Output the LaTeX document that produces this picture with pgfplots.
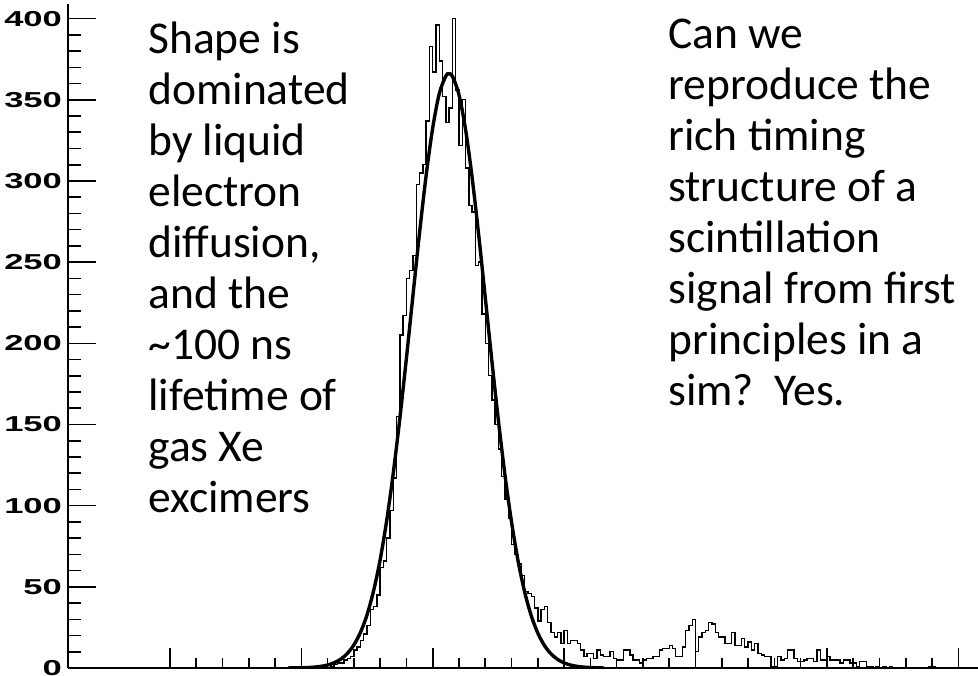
\documentclass[border=0pt]{standalone}
\usepackage{fontspec}
\setmainfont{Carlito}
\newfontfamily\tickfont{Liberation Sans}
\usepackage{graphicx}
\usepackage{pgfplots}
\pgfplotsset{compat=1.18}

% 1 px of the reference = 0.5pt
\pgfplotsset{
  common/.style={
    scale only axis,
    width=455pt, height=332pt,
    xmin=1.122, xmax=35.75,
    ymin=0, ymax=409,
    tick align=inside,
    axis line style={line width=1pt, -},
    every tick/.style={black, line width=0.8pt},
  },
}

\begin{document}
\begin{tikzpicture}
% y axis, data
\begin{axis}[
  common,
  name=ax,
  axis x line*=bottom,
  axis y line*=left,
  xtick=\empty,
  ytick={0,50,...,400},
  minor y tick num=4,
  major tick length=14pt,
  minor tick length=6.5pt,
  yticklabel={\scalebox{1.6}[1]{\tickfont\bfseries\fontsize{10.8}{11}\selectfont\pgfmathprintnumber[assume math mode=true]{\tick}}\kern-0.5pt},
]

% histogram, bin width 0.125
\addplot[const plot, black, line width=0.7pt] coordinates {
  (1.122,0) (10.5,1) (10.625,0) (10.75,1) (10.875,1) (11,2) (11.125,1) (11.25,2) (11.375,3)
  (11.5,3) (11.625,5) (11.75,6) (11.875,7) (12,11) (12.125,13) (12.25,17) (12.375,21)
  (12.5,26) (12.625,36) (12.75,38) (12.875,45) (13,62) (13.125,66) (13.25,80) (13.375,97)
  (13.5,117) (13.625,155) (13.75,205) (13.875,217) (14,240) (14.125,245) (14.25,254) (14.375,298)
  (14.5,305) (14.625,310) (14.75,337) (14.875,383) (15,367) (15.125,396) (15.25,374) (15.375,352)
  (15.5,336) (15.625,345) (15.75,400) (15.875,356) (16,322) (16.125,350) (16.25,308) (16.375,285)
  (16.5,281) (16.625,248) (16.75,250) (16.875,218) (17,200) (17.125,180) (17.25,165) (17.375,150)
  (17.5,135) (17.625,118) (17.75,104) (17.875,92) (18,76) (18.125,70) (18.25,64) (18.375,57)
  (18.5,47) (18.625,46) (18.75,44) (18.875,37) (19,29) (19.125,36) (19.25,38) (19.375,28)
  (19.5,22) (19.625,19) (19.75,22) (19.875,15) (20,23) (20.125,15) (20.25,17) (20.375,17)
  (20.5,15) (20.625,11) (20.75,7) (20.875,9) (21,9) (21.125,6) (21.25,11) (21.375,8)
  (21.5,7) (21.625,7) (21.75,10) (21.875,6) (22,5) (22.125,5) (22.25,11) (22.375,11)
  (22.5,8) (22.625,5) (22.75,5) (22.875,3) (23,5) (23.125,6) (23.25,6) (23.375,7)
  (23.5,7) (23.625,11) (23.75,12) (23.875,12) (24,14) (24.125,12) (24.25,7) (24.375,7)
  (24.5,13) (24.625,23) (24.75,26) (24.875,30) (25,10) (25.125,19) (25.25,22) (25.375,23)
  (25.5,28) (25.625,27) (25.75,22) (25.875,19) (26,19) (26.125,15) (26.25,15) (26.375,22)
  (26.5,14) (26.625,14) (26.75,18) (26.875,13) (27,16) (27.125,11) (27.25,15) (27.375,9)
  (27.5,8) (27.625,7) (27.75,7) (27.875,1) (28,1) (28.125,7) (28.25,5) (28.375,6)
  (28.5,11) (28.625,11) (28.75,6) (28.875,4) (29,4) (29.125,5) (29.25,6) (29.375,6)
  (29.5,4) (29.625,11) (29.75,5) (29.875,5) (30,7) (30.125,5) (30.25,5) (30.375,5)
  (30.5,3) (30.625,5) (30.75,5) (30.875,3) (31,3) (31.125,1) (31.25,4) (31.375,4)
  (31.5,1) (31.625,1) (31.75,0) (31.875,1) (32,0) (32.125,1) (32.25,0) (32.375,1)
  (32.5,0) (33.875,1) (34,1) (34.125,0) (35.75,0)
};

% gaussian fit
\addplot[smooth, black, line width=1.7pt] coordinates {
  (9.5,0.03) (9.75,0.07) (10,0.15) (10.25,0.29) (10.5,0.55) (10.75,1.02) (11,1.84)
  (11.25,3.21) (11.5,5.44) (11.75,8.92) (12,14.2) (12.25,21.9) (12.5,32.7) (12.75,47.5)
  (13,66.7) (13.25,90.9) (13.5,120.1) (13.75,153.8) (14,190.9) (14.25,229.8) (14.5,268.2)
  (14.75,303.4) (15,332.7) (15.25,353.8) (15.5,364.7) (15.62,366) (15.75,364.5) (16,353.1)
  (16.25,331.7) (16.5,302.1) (16.75,266.7) (17,228.2) (17.25,189.4) (17.5,152.4)
  (17.75,118.8) (18,89.9) (18.25,65.8) (18.5,46.8) (18.75,32.2) (19,21.5) (19.25,13.9)
  (19.5,8.75) (19.75,5.33) (20,3.14) (20.25,1.80) (20.5,1.00) (20.75,0.54) (21,0.28)
  (21.25,0.14) (21.5,0.07)
};
\end{axis}

% x axis ticks
\begin{axis}[
  common,
  axis x line*=bottom,
  axis y line=none,
  ytick=\empty,
  xtick={5,10,...,35},
  minor x tick num=4,
  xticklabels={},
  major tick length=10pt,
  minor tick length=5pt,
]
\end{axis}

\node[anchor=north west, align=left, inner sep=0pt,
      font=\fontsize{22.75}{25.5}\selectfont]
  at ([shift={(40pt,323pt)}]ax.south west)
  {Shape is\\dominated\\by liquid\\electron\\diffusion,\\and the\\\textasciitilde100 ns\\lifetime of\\gas Xe\\excimers};
\node[anchor=north west, align=left, inner sep=0pt,
      font=\fontsize{22.75}{25.5}\selectfont]
  at ([shift={(300pt,324.5pt)}]ax.south west)
  {Can we\\reproduce the\\rich timing\\structure of a\\scintillation\\signal from first\\principles in a\\sim?~~Yes.};

\pgfresetboundingbox
\path[use as bounding box] ([shift={(-34pt,-3.5pt)}]ax.south west)
  rectangle ([shift={(0pt,2pt)}]ax.north east);
\end{tikzpicture}
\end{document}
